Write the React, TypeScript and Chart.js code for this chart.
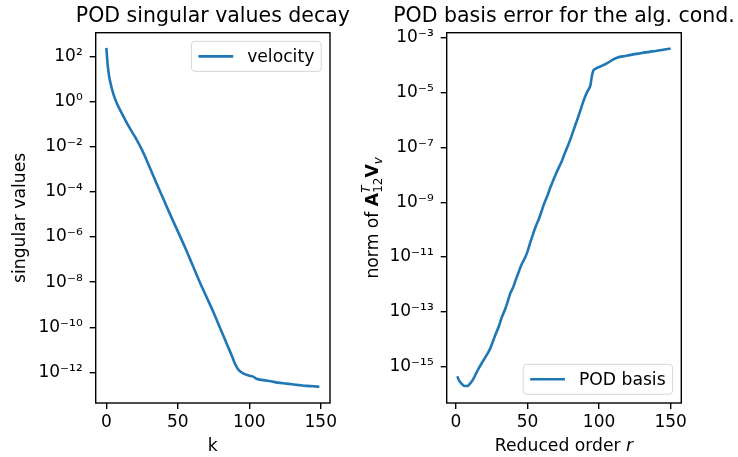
import React, { useEffect, useRef } from 'react';
import { Chart, registerables } from 'chart.js';

Chart.register(...registerables);

// ---------- data ----------
const kValues = [0, 1, 2, 3, 5, 7, 10, 13, 16, 20, 25, 30, 35, 40, 45, 50, 55, 60, 65, 70, 75, 80, 85, 88, 90, 92, 94, 96, 100, 103, 105, 110, 115, 120, 125, 130, 135, 140, 145, 149];
const singularValues = [2.45e2, 3.98e1, 1.26e1, 6.3, 2.1, 0.95, 0.38, 0.166, 7.4e-2, 2.8e-2, 7.1e-3, 1.38e-3, 2.5e-4, 4.7e-5, 8.9e-6, 1.78e-6, 3.5e-7, 6.3e-8, 1.12e-8, 2.24e-9, 4.5e-10, 7.9e-11, 1.41e-11, 5.0e-12, 2.4e-12, 1.41e-12, 1.05e-12, 8.7e-13, 7.1e-13, 6.3e-13, 5.2e-13, 4.5e-13, 4.0e-13, 3.5e-13, 3.2e-13, 2.95e-13, 2.7e-13, 2.5e-13, 2.4e-13, 2.3e-13];

const rValues = [1, 2, 4, 6, 8, 10, 12, 14, 16, 18, 20, 22, 24, 26, 28, 30, 32, 34, 36, 38, 40, 42, 44, 46, 48, 50, 52, 54, 56, 58, 60, 62, 64, 66, 68, 70, 72, 74, 76, 78, 80, 82, 84, 86, 88, 90, 92, 94, 95, 96, 98, 100, 103, 106, 110, 113, 118, 123, 130, 137, 144, 150];
const podBasisError = [4.5e-16, 3.3e-16, 2.4e-16, 2.0e-16, 2.0e-16, 2.5e-16, 3.5e-16, 5.6e-16, 8.9e-16, 1.35e-15, 2.0e-15, 3.0e-15, 4.7e-15, 8.9e-15, 1.66e-14, 3.0e-14, 6.3e-14, 1.12e-13, 2.24e-13, 4.8e-13, 7.9e-13, 1.58e-12, 3.0e-12, 5.6e-12, 8.9e-12, 1.58e-11, 3.5e-11, 7.2e-11, 1.41e-10, 2.5e-10, 5.0e-10, 1.0e-9, 1.78e-9, 3.5e-9, 6.3e-9, 1.12e-8, 1.9e-8, 3.2e-8, 6.0e-8, 1.07e-7, 2.0e-7, 4.0e-7, 7.9e-7, 1.58e-6, 3.3e-6, 6.6e-6, 1.12e-5, 1.9e-5, 4.0e-5, 6.3e-5, 7.6e-5, 8.5e-5, 1.0e-4, 1.2e-4, 1.62e-4, 1.9e-4, 2.14e-4, 2.4e-4, 2.75e-4, 3.16e-4, 3.55e-4, 4.0e-4];

const xTicks = [0, 50, 100, 150];
const leftYTicks = [1e-12, 1e-10, 1e-8, 1e-6, 1e-4, 1e-2, 1e0, 1e2];
const rightYTicks = [1e-15, 1e-13, 1e-11, 1e-9, 1e-7, 1e-5, 1e-3];

const leftTitle = 'POD singular values decay';
const rightTitle = 'POD basis error for the alg. cond.';
const leftLegend = 'velocity';
const rightLegend = 'POD basis';

// ---------- styling ----------
const FONT = 'DejaVu Sans';
const BLUE = '#1f77b4';
const W = 738;
const H = 457;

const SUP: Record<string, string> = {
  '0': '\u2070', '1': '\u00B9', '2': '\u00B2', '3': '\u00B3', '4': '\u2074',
  '5': '\u2075', '6': '\u2076', '7': '\u2077', '8': '\u2078', '9': '\u2079', '-': '\u207B',
};
const powLabel = (v: number) => {
  const e = Math.round(Math.log10(v));
  return '10' + String(e).split('').map((c) => SUP[c] || c).join('');
};

type Seg = { t: string; font: string; dy: number };

function drawSegments(ctx: CanvasRenderingContext2D, segs: (Seg | Seg[])[], cx: number, cy: number, rotate: boolean) {
  const widthOf = (s: Seg | Seg[]) => {
    if (Array.isArray(s)) {
      return Math.max(...s.map((q) => { ctx.font = q.font; return ctx.measureText(q.t).width; }));
    }
    ctx.font = s.font;
    return ctx.measureText(s.t).width;
  };
  const total = segs.reduce((a, s) => a + widthOf(s), 0);
  ctx.save();
  ctx.translate(cx, cy);
  if (rotate) ctx.rotate(-Math.PI / 2);
  ctx.textAlign = 'left';
  ctx.textBaseline = 'alphabetic';
  ctx.fillStyle = '#000';
  let x = -total / 2;
  for (const s of segs) {
    const w = widthOf(s);
    const list = Array.isArray(s) ? s : [s];
    for (const q of list) {
      ctx.font = q.font;
      ctx.fillText(q.t, x, q.dy);
    }
    x += w;
  }
  ctx.restore();
}

type Deco = {
  title: string;
  legend: string;
  legendPos: 'upper right' | 'lower right';
  yTitle: (Seg | Seg[])[];
  yTitleX: number;
  xTitle: (Seg | Seg[])[];
};

function makeDecoPlugin(d: Deco) {
  return {
    id: 'deco',
    afterDatasetsDraw(chart: any) {
      const ctx: CanvasRenderingContext2D = chart.ctx;
      const a = chart.chartArea;
      const cx = (a.left + a.right) / 2;
      const cy = (a.top + a.bottom) / 2;
      // frame (spines)
      ctx.save();
      ctx.strokeStyle = '#000';
      ctx.lineWidth = 1.4;
      ctx.strokeRect(a.left, a.top, a.right - a.left, a.bottom - a.top);
      ctx.restore();
      // title
      ctx.save();
      ctx.font = `20.5px ${FONT}`;
      ctx.fillStyle = '#000';
      ctx.textAlign = 'center';
      ctx.textBaseline = 'alphabetic';
      ctx.fillText(d.title, cx, 22.3);
      ctx.restore();
      // axis titles
      drawSegments(ctx, d.xTitle, cx, 450.7, false);
      drawSegments(ctx, d.yTitle, d.yTitleX, cy, true);
      // legend
      ctx.save();
      ctx.font = `17.2px ${FONT}`;
      const tw = ctx.measureText(d.legend).width;
      const pad = 7;
      const handle = 34.8;
      const textPad = 13.9;
      const bw = pad + handle + textPad + tw + pad;
      const bh = 30;
      const gap = 8.7;
      const bx = a.right - gap - bw;
      const by = d.legendPos === 'upper right' ? a.top + gap : a.bottom - gap - bh;
      const r = 3.5;
      ctx.beginPath();
      ctx.moveTo(bx + r, by);
      ctx.lineTo(bx + bw - r, by);
      ctx.arcTo(bx + bw, by, bx + bw, by + r, r);
      ctx.lineTo(bx + bw, by + bh - r);
      ctx.arcTo(bx + bw, by + bh, bx + bw - r, by + bh, r);
      ctx.lineTo(bx + r, by + bh);
      ctx.arcTo(bx, by + bh, bx, by + bh - r, r);
      ctx.lineTo(bx, by + r);
      ctx.arcTo(bx, by, bx + r, by, r);
      ctx.closePath();
      ctx.fillStyle = 'rgba(255,255,255,0.8)';
      ctx.fill();
      ctx.strokeStyle = 'rgba(204,204,204,0.8)';
      ctx.lineWidth = 1;
      ctx.stroke();
      ctx.beginPath();
      ctx.strokeStyle = BLUE;
      ctx.lineWidth = 2.6;
      ctx.moveTo(bx + pad, by + 15);
      ctx.lineTo(bx + pad + handle, by + 15);
      ctx.stroke();
      ctx.fillStyle = '#000';
      ctx.textAlign = 'left';
      ctx.textBaseline = 'alphabetic';
      ctx.fillText(d.legend, bx + pad + handle + textPad, by + 20.6);
      ctx.restore();
    },
  };
}

function buildConfig(xs: number[], ys: number[], label: string, xMin: number, xMax: number, yMinExp: number, yMaxExp: number, yTicks: number[], yAxisWidth: number, padRight: number, deco: Deco) {
  return {
    type: 'line' as const,
    data: {
      datasets: [
        {
          label,
          data: xs.map((x, i) => ({ x, y: ys[i] })),
          borderColor: BLUE,
          backgroundColor: BLUE,
          borderWidth: 2.6,
          pointRadius: 0,
          cubicInterpolationMode: 'monotone' as const,
          fill: false,
        },
      ],
    },
    options: {
      animation: false as const,
      responsive: false,
      devicePixelRatio: 1,
      layout: { padding: { left: 0, top: 32.7, right: padRight, bottom: 0 } },
      plugins: { legend: { display: false }, title: { display: false }, tooltip: { enabled: false } },
      scales: {
        x: {
          type: 'linear' as const,
          min: xMin,
          max: xMax,
          afterBuildTicks: (s: any) => { s.ticks = xTicks.map((v) => ({ value: v })); },
          afterFit: (s: any) => { s.height = H - 403; },
          grid: { display: true, drawOnChartArea: false, drawTicks: true, tickLength: 6, color: '#000', lineWidth: 1.4 },
          border: { display: false },
          ticks: { color: '#000', font: { family: FONT, size: 17 }, padding: 3, maxRotation: 0, autoSkip: false },
        },
        y: {
          type: 'logarithmic' as const,
          min: Math.pow(10, yMinExp),
          max: Math.pow(10, yMaxExp),
          afterBuildTicks: (s: any) => { s.ticks = yTicks.map((v) => ({ value: v })); },
          afterFit: (s: any) => { s.width = yAxisWidth; },
          grid: { display: true, drawOnChartArea: false, drawTicks: true, tickLength: 6, color: '#000', lineWidth: 1.4 },
          border: { display: false },
          ticks: { color: '#000', font: { family: FONT, size: 17 }, padding: 7, autoSkip: false, callback: (v: any) => powLabel(Number(v)) },
        },
      },
    },
    plugins: [makeDecoPlugin(deco)],
  };
}

export default function App() {
  const leftRef = useRef<HTMLCanvasElement>(null);
  const rightRef = useRef<HTMLCanvasElement>(null);

  useEffect(() => {
    const N = `17.2px ${FONT}`;
    const leftChart = new Chart(
      leftRef.current as HTMLCanvasElement,
      buildConfig(kValues, singularValues, leftLegend, -7.45, 156.45, -13.36, 3.06, leftYTicks, 95.7, 369 - 330, {
        title: leftTitle,
        legend: leftLegend,
        legendPos: 'upper right',
        yTitle: [{ t: 'singular values', font: N, dy: 0 }],
        yTitleX: 25,
        xTitle: [{ t: 'k', font: N, dy: 0 }],
      }) as any
    );
    const rightChart = new Chart(
      rightRef.current as HTMLCanvasElement,
      buildConfig(rValues, podBasisError, rightLegend, -6.45, 157.45, -16.32, -2.82, rightYTicks, 446.7 - 350, 388 - (681.3 - 350), {
        title: rightTitle,
        legend: rightLegend,
        legendPos: 'lower right',
        yTitle: [
          { t: 'norm of ', font: N, dy: 0 },
          { t: 'A', font: `bold ${N}`, dy: 0 },
          [
            { t: '12', font: `12px ${FONT}`, dy: 4 },
            { t: 'T', font: `italic 12px ${FONT}`, dy: -8 },
          ],
          { t: 'V', font: `bold ${N}`, dy: 0 },
          { t: 'v', font: `italic 12px ${FONT}`, dy: 4 },
        ],
        yTitleX: 377.5 - 350,
        xTitle: [
          { t: 'Reduced order ', font: N, dy: 0 },
          { t: 'r', font: `italic ${N}`, dy: 0 },
        ],
      }) as any
    );
    return () => {
      leftChart.destroy();
      rightChart.destroy();
    };
  }, []);

  return (
    <div style={{ position: 'fixed', left: 0, top: 0, width: W, height: H, background: '#fff', overflow: 'hidden' }}>
      <canvas ref={leftRef} width={369} height={H} style={{ position: 'absolute', left: 0, top: 0, width: 369, height: H }} />
      <canvas ref={rightRef} width={388} height={H} style={{ position: 'absolute', left: 350, top: 0, width: 388, height: H }} />
    </div>
  );
}
